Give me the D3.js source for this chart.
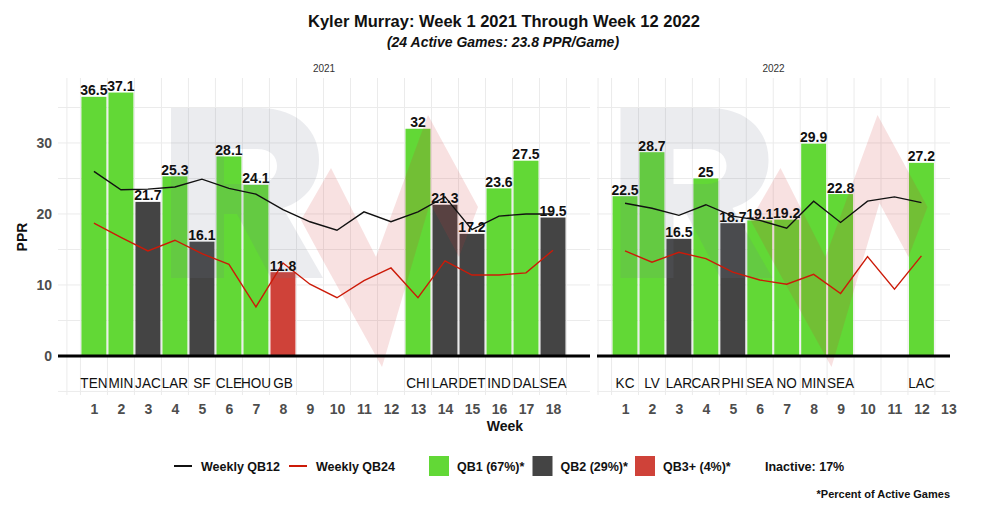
<!DOCTYPE html>
<html><head><meta charset="utf-8">
<script src="https://cdn.jsdelivr.net/npm/d3@7"></script>
<style>body{margin:0;background:#fff;} svg{display:block;font-family:"Liberation Sans",Arial,Helvetica,sans-serif;}</style>
</head><body><svg id="c" width="983" height="525"></svg>
<script>
// ---------------- data ----------------
const weeks2021 = [1,2,3,4,5,6,7,8,9,10,11,12,13,14,15,16,17,18];
const teams2021 = ["TEN","MIN","JAC","LAR","SF","CLE","HOU","GB","","","","","CHI","LAR","DET","IND","DAL","SEA"];
const ppr2021   = [36.5,37.1,21.7,25.3,16.1,28.1,24.1,11.8,null,null,null,null,32,21.3,17.2,23.6,27.5,19.5];
const tier2021  = ["QB1","QB1","QB2","QB1","QB2","QB1","QB1","QB3+",null,null,null,null,"QB1","QB2","QB2","QB1","QB1","QB2"];
const qb12_2021 = [26.0,23.4,23.5,23.8,24.9,23.6,22.8,20.6,18.9,17.7,20.3,18.9,20.3,22.4,17.8,19.7,20.0,20.0];
const qb24_2021 = [18.7,16.7,14.8,16.3,14.4,12.9,6.9,13.1,10.1,8.2,10.6,12.4,8.2,13.4,11.4,11.4,11.7,14.9];

const weeks2022 = [1,2,3,4,5,6,7,8,9,10,11,12];
const teams2022 = ["KC","LV","LAR","CAR","PHI","SEA","NO","MIN","SEA","","","LAC"];
const ppr2022   = [22.5,28.7,16.5,25,18.7,19.1,19.2,29.9,22.8,null,null,27.2];
const tier2022  = ["QB1","QB1","QB2","QB1","QB2","QB1","QB1","QB1","QB1",null,null,"QB1"];
const qb12_2022 = [21.5,20.8,19.8,21.3,19.7,19.1,18.0,21.8,18.8,21.8,22.4,21.6];
const qb24_2022 = [14.8,13.2,14.6,13.7,11.8,10.7,10.1,11.5,8.8,14.0,9.4,14.1];

const yTicks = [0,10,20,30];
const tickWeeks2021 = d3.range(1,19);
const tickWeeks2022 = d3.range(1,14);

const tierNames  = ["QB1","QB2","QB3+"];
const tierColors = ["#62D836","#444444","#CF4239"];
const legendTierLabels = ["QB1 (67%)*","QB2 (29%)*","QB3+ (4%)*"];
const lineLabels = ["Weekly QB12","Weekly QB24"];
const lineColors = ["#111111","#CC1A08"];

const titleText = "Kyler Murray: Week 1 2021 Through Week 12 2022";
const subtitleText = "(24 Active Games: 23.8 PPR/Game)";
const inactiveText = "Inactive: 17%";
const footText = "*Percent of Active Games";

// ---------------- layout ----------------
const svg = d3.select("#c");
const tierColor = d3.scaleOrdinal().domain(tierNames).range(tierColors);
const y = d3.scaleLinear().domain([-5.5, 39.15]).range([395, 78]);

const panels = [
  {year:"2021", weeks:weeks2021, teams:teams2021, ppr:ppr2021, tier:tier2021, q12:qb12_2021, q24:qb24_2021,
   ticks:tickWeeks2021, x:d3.scaleLinear().domain([-0.33, 19.37]).range([58, 590]), gridMax:19},
  {year:"2022", weeks:weeks2022, teams:teams2022, ppr:ppr2022, tier:tier2022, q12:qb12_2022, q24:qb24_2022,
   ticks:tickWeeks2022, x:d3.scaleLinear().domain([-0.04, 13.06]).range([597, 950]), gridMax:13}
];

const rPath = "M0,0 H88 C128,0 148,24 148,52 C148,76 134,93 112,100 L152,170 H100 L66,106 H53 V170 H0 Z " +
              "M53,41 V76 H86 C99,76 106,68 106,58 C106,48 99,41 86,41 Z";
const zigPts = [[130,112],[160,60],[205,149],[257,7],[307,99],[288,149],[259,95],[211,259],[150,149]];

panels.forEach((p, pi) => {
  const x = p.x;
  const [x0, x1] = x.range();
  const g = svg.append("g");
  // grid
  const hVals = d3.range(-5, 40, 5);
  g.selectAll(".hg").data(hVals).enter().append("line")
    .attr("x1", x0).attr("x2", x1).attr("y1", d => y(d)).attr("y2", d => y(d))
    .attr("stroke", "#ebebeb").attr("stroke-width", 1);
  const vVals = [0].concat(d3.range(0.5, p.gridMax, 1));
  g.selectAll(".vg").data(vVals).enter().append("line")
    .attr("x1", d => x(d)).attr("x2", d => x(d)).attr("y1", 78).attr("y2", 395)
    .attr("stroke", "#ebebeb").attr("stroke-width", 1);

  // strip label
  svg.append("text").attr("x", (x0 + x1) / 2).attr("y", 72).attr("text-anchor", "middle")
    .attr("font-size", 10).attr("fill", "#333").text(p.year);

  const data = p.weeks.map((w, i) => ({w, team:p.teams[i], v:p.ppr[i], tier:p.tier[i], q12:p.q12[i], q24:p.q24[i]}));
  const active = data.filter(d => d.v != null);
  const bw = (x(1) - x(0)) * 0.925;

  // bars
  g.selectAll(".bar").data(active).enter().append("rect")
    .attr("x", d => x(d.w) - bw / 2).attr("width", bw)
    .attr("y", d => y(d.v)).attr("height", d => y(0) - y(d.v))
    .attr("fill", d => tierColor(d.tier));

  // watermark logo
  const cx = (x0 + x1) / 2;
  const wm = g.append("g").attr("transform", `translate(${cx - 153},108)`);
  wm.append("path").attr("d", rPath).attr("fill-rule", "evenodd")
    .attr("fill", "rgb(110,118,140)").attr("fill-opacity", 0.14);
  wm.append("polygon").attr("points", zigPts.map(pt => pt.join(",")).join(" "))
    .attr("fill", "rgb(205,55,55)").attr("fill-opacity", 0.15);

  // zero line
  g.append("line").attr("x1", x0).attr("x2", x1).attr("y1", y(0)).attr("y2", y(0))
    .attr("stroke", "#000").attr("stroke-width", 3);

  // lines
  const line12 = d3.line().x(d => x(d.w)).y(d => y(d.q12));
  const line24 = d3.line().x(d => x(d.w)).y(d => y(d.q24));
  g.append("path").datum(data).attr("d", line12).attr("fill", "none")
    .attr("stroke", lineColors[0]).attr("stroke-width", 1.4);
  g.append("path").datum(data).attr("d", line24).attr("fill", "none")
    .attr("stroke", lineColors[1]).attr("stroke-width", 1.4);

  // bar labels
  g.selectAll(".bl").data(active).enter().append("text")
    .attr("x", d => x(d.w)).attr("y", d => y(d.v) - 1.5)
    .attr("text-anchor", "middle").attr("font-size", 14).attr("font-weight", "bold")
    .attr("fill", "#111").text(d => String(d.v));

  // team labels (narrow face)
  g.selectAll(".tl").data(active).enter().append("text")
    .attr("transform", d => `translate(${x(d.w)},${y(-3.8)}) scale(0.88,1)`).attr("dy", "0.36em")
    .attr("text-anchor", "middle").attr("font-size", 15.4).attr("fill", "#111").text(d => d.team);

  // x axis
  const ax = svg.append("g").attr("transform", "translate(0,395)")
    .call(d3.axisBottom(x).tickValues(p.ticks).tickFormat(d3.format("d")).tickSize(0).tickPadding(9));
  ax.select(".domain").remove();
  ax.selectAll("text").attr("font-size", 14).attr("font-weight", "bold").attr("fill", "#4d4d4d")
    .attr("font-family", "Liberation Sans, Arial, sans-serif");

  if (pi === 0) {
    const ay = svg.append("g").attr("transform", `translate(${x0},0)`)
      .call(d3.axisLeft(y).tickValues(yTicks).tickSize(0).tickPadding(6));
    ay.select(".domain").remove();
    ay.selectAll("text").attr("font-size", 14).attr("font-weight", "bold").attr("fill", "#4d4d4d")
      .attr("font-family", "Liberation Sans, Arial, sans-serif");
  }
});

// axis titles
svg.append("text").attr("x", 505).attr("y", 431).attr("text-anchor", "middle")
  .attr("font-size", 14).attr("font-weight", "bold").attr("fill", "#111").text("Week");
svg.append("text").attr("transform", "translate(27,237) rotate(-90)").attr("text-anchor", "middle")
  .attr("font-size", 14).attr("font-weight", "bold").attr("fill", "#111").text("PPR");

// titles
svg.append("text").attr("x", 504).attr("y", 27).attr("text-anchor", "middle")
  .attr("font-size", 16.5).attr("font-weight", "bold").attr("fill", "#111").text(titleText);
svg.append("text").attr("x", 503).attr("y", 47).attr("text-anchor", "middle")
  .attr("font-size", 14).attr("font-weight", "bold").attr("font-style", "italic").attr("fill", "#111").text(subtitleText);

// legend
const lg = svg.append("g").attr("font-size", 12.5).attr("font-weight", "bold").attr("fill", "#111");
const lineKeyX = [174, 289];
lineLabels.forEach((t, i) => {
  lg.append("line").attr("x1", lineKeyX[i]).attr("x2", lineKeyX[i] + 18).attr("y1", 466).attr("y2", 466)
    .attr("stroke", lineColors[i]).attr("stroke-width", 2);
  lg.append("text").attr("x", lineKeyX[i] + 27).attr("y", 470.5).text(t);
});
const boxX = [429, 532.5, 635];
legendTierLabels.forEach((t, i) => {
  lg.append("rect").attr("x", boxX[i]).attr("y", 456).attr("width", 20).attr("height", 20)
    .attr("fill", tierColor(tierNames[i]));
  lg.append("text").attr("x", boxX[i] + 28).attr("y", 470.5).text(t);
});
lg.append("text").attr("x", 765).attr("y", 470.5).text(inactiveText);
svg.append("text").attr("x", 950).attr("y", 498).attr("text-anchor", "end")
  .attr("font-size", 11).attr("font-weight", "bold").attr("fill", "#111").text(footText);
</script>
</body></html>
